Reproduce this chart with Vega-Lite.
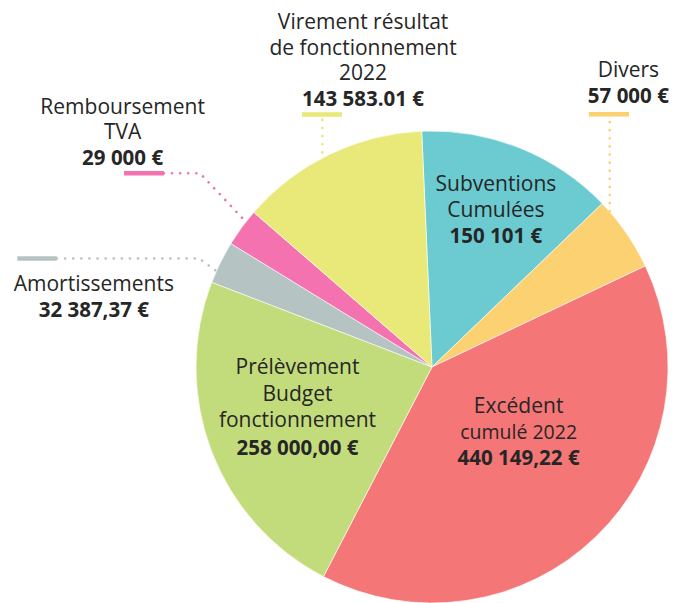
{
  "$schema": "https://vega.github.io/schema/vega-lite/v6.json",
  "width": 472,
  "height": 472,
  "autosize": {"type": "none"},
  "padding": {"left": 196, "top": 131, "right": 18, "bottom": 0},
  "background": "white",
  "config": {"view": {"stroke": null}},
  "datasets": {
    "slices": [
      {"slice": "Subventions Cumulées", "value": 150101, "order": 1},
      {"slice": "Divers", "value": 57000, "order": 2},
      {"slice": "Excédent cumulé 2022", "value": 440149.22, "order": 3},
      {"slice": "Prélèvement Budget fonctionnement", "value": 258000, "order": 4},
      {"slice": "Amortissements", "value": 32387.37, "order": 5},
      {"slice": "Remboursement TVA", "value": 29000, "order": 6},
      {"slice": "Virement résultat de fonctionnement 2022", "value": 143583.01, "order": 7}
    ],
    "leaders": [
      {"slice": "Virement résultat de fonctionnement 2022", "seq": 1, "x": -0.465, "y": 1.047},
      {"slice": "Virement résultat de fonctionnement 2022", "seq": 2, "x": -0.465, "y": 0.886},
      {"slice": "Divers", "seq": 1, "x": 0.753, "y": 1.038},
      {"slice": "Divers", "seq": 2, "x": 0.753, "y": 0.657},
      {"slice": "Remboursement TVA", "seq": 1, "x": -1.136, "y": 0.821},
      {"slice": "Remboursement TVA", "seq": 2, "x": -0.983, "y": 0.821},
      {"slice": "Remboursement TVA", "seq": 3, "x": -0.729, "y": 0.552},
      {"slice": "Amortissements", "seq": 1, "x": -1.589, "y": 0.46},
      {"slice": "Amortissements", "seq": 2, "x": -0.987, "y": 0.46},
      {"slice": "Amortissements", "seq": 3, "x": -0.891, "y": 0.39}
    ],
    "bars": [
      {"slice": "Virement résultat de fonctionnement 2022", "x": -0.551, "x2": -0.381, "y": 1.07},
      {"slice": "Divers", "x": 0.665, "x2": 0.835, "y": 1.071},
      {"slice": "Remboursement TVA", "x": -1.305, "x2": -1.136, "y": 0.821},
      {"slice": "Amortissements", "x": -1.757, "x2": -1.59, "y": 0.46}
    ],
    "lines": [
      {"slice": "Virement résultat de fonctionnement 2022", "kind": "name", "text": "Virement résultat", "x": -0.292, "y": 1.431},
      {"slice": "Virement résultat de fonctionnement 2022", "kind": "name", "text": "de fonctionnement", "x": -0.292, "y": 1.323},
      {"slice": "Virement résultat de fonctionnement 2022", "kind": "name", "text": "2022", "x": -0.292, "y": 1.215},
      {"slice": "Virement résultat de fonctionnement 2022", "kind": "value", "text": "143 583.01 €", "x": -0.292, "y": 1.106},
      {"slice": "Divers", "kind": "name", "text": "Divers", "x": 0.832, "y": 1.228},
      {"slice": "Divers", "kind": "value", "text": "57 000 €", "x": 0.832, "y": 1.117},
      {"slice": "Remboursement TVA", "kind": "name", "text": "Remboursement", "x": -1.311, "y": 1.074},
      {"slice": "Remboursement TVA", "kind": "name", "text": "TVA", "x": -1.311, "y": 0.965},
      {"slice": "Remboursement TVA", "kind": "value", "text": "29 000 €", "x": -1.311, "y": 0.856},
      {"slice": "Amortissements", "kind": "name", "text": "Amortissements", "x": -1.433, "y": 0.321},
      {"slice": "Amortissements", "kind": "value", "text": "32 387,37 €", "x": -1.433, "y": 0.211},
      {"slice": "Subventions Cumulées", "kind": "name", "text": "Subventions", "x": 0.271, "y": 0.746},
      {"slice": "Subventions Cumulées", "kind": "name", "text": "Cumulées", "x": 0.271, "y": 0.637},
      {"slice": "Subventions Cumulées", "kind": "value", "text": "150 101 €", "x": 0.271, "y": 0.527},
      {"slice": "Prélèvement Budget fonctionnement", "kind": "name", "text": "Prélèvement", "x": -0.57, "y": -0.03},
      {"slice": "Prélèvement Budget fonctionnement", "kind": "name", "text": "Budget", "x": -0.57, "y": -0.142},
      {"slice": "Prélèvement Budget fonctionnement", "kind": "name", "text": "fonctionnement", "x": -0.57, "y": -0.256},
      {"slice": "Prélèvement Budget fonctionnement", "kind": "value", "text": "258 000,00 €", "x": -0.57, "y": -0.373},
      {"slice": "Excédent cumulé 2022", "kind": "name", "text": "Excédent", "x": 0.367, "y": -0.197},
      {"slice": "Excédent cumulé 2022", "kind": "small", "text": "cumulé 2022", "x": 0.367, "y": -0.306},
      {"slice": "Excédent cumulé 2022", "kind": "value", "text": "440 149,22 €", "x": 0.367, "y": -0.415}
    ]
  },
  "layer": [
    {
      "data": {"name": "slices"},
      "mark": {"type": "arc", "stroke": "#ffffff", "strokeWidth": 0.6},
      "encoding": {
        "theta": {"field": "value", "type": "quantitative", "stack": true, "scale": {"range": [-0.0436, 6.2396]}},
        "order": {"field": "order", "type": "quantitative"},
        "color": {
          "field": "slice", "type": "nominal", "legend": null,
          "scale": {
            "domain": ["Subventions Cumulées", "Divers", "Excédent cumulé 2022", "Prélèvement Budget fonctionnement", "Amortissements", "Remboursement TVA", "Virement résultat de fonctionnement 2022"],
            "range": ["#6BCBD0", "#FCD172", "#F57676", "#C3DC7B", "#B5C4C3", "#F472AF", "#E8E979"]
          }
        }
      }
    },
    {
      "data": {"name": "leaders"},
      "mark": {"type": "line", "strokeDash": [0.1, 8], "strokeCap": "round", "strokeWidth": 2.6},
      "encoding": {
        "x": {"field": "x", "type": "quantitative", "scale": {"domain": [-1, 1], "nice": false, "zero": false}, "axis": null},
        "y": {"field": "y", "type": "quantitative", "scale": {"domain": [-1, 1], "nice": false, "zero": false}, "axis": null},
        "order": {"field": "seq", "type": "quantitative"},
        "color": {"field": "slice", "type": "nominal", "legend": null}
      }
    },
    {
      "data": {"name": "bars"},
      "mark": {"type": "rule", "strokeWidth": 4.6},
      "encoding": {
        "x": {"field": "x", "type": "quantitative", "axis": null},
        "x2": {"field": "x2"},
        "y": {"field": "y", "type": "quantitative", "axis": null},
        "color": {"field": "slice", "type": "nominal", "legend": null}
      }
    },
    {
      "data": {"name": "lines"},
      "transform": [{"filter": "datum.kind === 'name'"}],
      "mark": {"type": "text", "font": "Open Sans", "fontSize": 21, "align": "center", "baseline": "alphabetic", "color": "#262626"},
      "encoding": {
        "x": {"field": "x", "type": "quantitative", "axis": null},
        "y": {"field": "y", "type": "quantitative", "axis": null},
        "text": {"field": "text", "type": "nominal"}
      }
    },
    {
      "data": {"name": "lines"},
      "transform": [{"filter": "datum.kind === 'small'"}],
      "mark": {"type": "text", "font": "Open Sans", "fontSize": 19.5, "align": "center", "baseline": "alphabetic", "color": "#262626"},
      "encoding": {
        "x": {"field": "x", "type": "quantitative", "axis": null},
        "y": {"field": "y", "type": "quantitative", "axis": null},
        "text": {"field": "text", "type": "nominal"}
      }
    },
    {
      "data": {"name": "lines"},
      "transform": [{"filter": "datum.kind === 'value'"}],
      "mark": {"type": "text", "font": "Open Sans", "fontWeight": "bold", "fontSize": 20.5, "align": "center", "baseline": "alphabetic", "color": "#262626"},
      "encoding": {
        "x": {"field": "x", "type": "quantitative", "axis": null},
        "y": {"field": "y", "type": "quantitative", "axis": null},
        "text": {"field": "text", "type": "nominal"}
      }
    }
  ]
}
